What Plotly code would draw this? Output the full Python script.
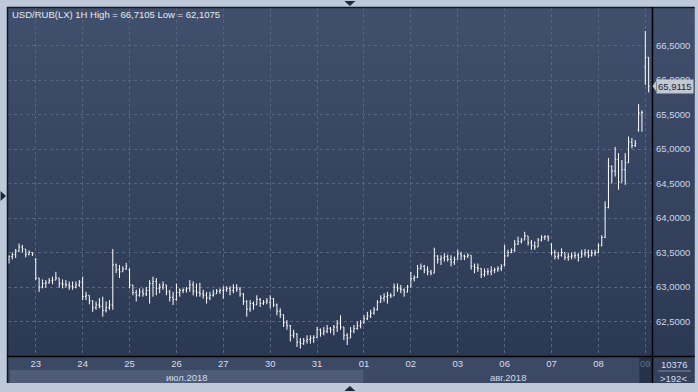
import plotly.graph_objects as go

# ---------------- data (USD/RUB, 1H bars, 14 bars per trading day) ----------------
day_labels = ["23", "24", "25", "26", "27", "30", "31", "01", "02", "03", "06", "07", "08", "09"]
month_labels = ["июл.2018", "авг.2018"]
bars_before_first_label = 8
bars_per_day = 14

opens = [
    63.40, 63.44, 63.47, 63.52, 63.58, 63.55, 63.47, 63.50,
    63.40, 63.13, 63.00, 63.05, 63.06, 63.09, 63.10, 63.13, 63.05, 63.04, 63.03, 63.01, 63.00, 63.03,
    63.07, 62.86, 62.88, 62.80, 62.70, 62.74, 62.72, 62.66, 62.70, 62.74, 63.32, 63.25, 63.22, 63.26,
    63.25, 63.03, 62.92, 62.88, 62.93, 62.90, 62.95, 63.05, 63.08, 62.98, 63.00, 63.03, 62.93, 62.85,
    62.82, 62.92, 62.95, 62.96, 62.98, 63.03, 62.94, 62.92, 62.90, 62.88, 62.84, 62.88, 62.90, 62.94,
    62.95, 62.96, 62.98, 62.95, 62.99, 62.97, 62.90, 62.79, 62.68, 62.76, 62.74, 62.82, 62.76, 62.78,
    62.78, 62.83, 62.74, 62.65, 62.60, 62.48, 62.44, 62.30, 62.32, 62.20, 62.18, 62.22, 62.24, 62.26,
    62.27, 62.38, 62.33, 62.36, 62.40, 62.38, 62.42, 62.47, 62.42, 62.30, 62.26, 62.36, 62.40, 62.44,
    62.48, 62.54, 62.58, 62.62, 62.67, 62.78, 62.84, 62.86, 62.88, 62.87, 63.00, 62.98, 62.96, 62.93,
    63.00, 63.12, 63.14, 63.27, 63.30, 63.25, 63.22, 63.20, 63.45, 63.40, 63.42, 63.44, 63.40, 63.36,
    63.40, 63.48, 63.45, 63.44, 63.46, 63.30, 63.28, 63.27, 63.18, 63.22, 63.22, 63.24, 63.25, 63.27,
    63.32, 63.45, 63.50, 63.53, 63.62, 63.66, 63.68, 63.74, 63.64, 63.60, 63.58, 63.68, 63.72, 63.73,
    63.62, 63.50, 63.44, 63.46, 63.50, 63.43, 63.44, 63.45, 63.46, 63.43, 63.48, 63.50, 63.46, 63.49,
    63.50, 63.60, 63.72, 64.15, 64.75, 64.68, 64.85, 64.52, 64.70, 64.80, 65.10, 65.05, 65.28, 65.52,
    66.19, 66.33,
]
highs = [
    63.46, 63.50, 63.55, 63.63, 63.61, 63.55, 63.53, 63.50,
    63.42, 63.13, 63.11, 63.10, 63.13, 63.15, 63.22, 63.13, 63.11, 63.10, 63.08, 63.08, 63.08, 63.10,
    63.15, 62.93, 62.88, 62.81, 62.79, 62.84, 62.86, 62.79, 62.81, 63.55, 63.34, 63.32, 63.30, 63.35,
    63.27, 63.03, 62.96, 62.98, 62.98, 63.00, 63.10, 63.15, 63.13, 63.05, 63.08, 63.03, 62.96, 62.93,
    63.05, 62.98, 62.98, 63.00, 63.10, 63.08, 63.05, 63.06, 62.96, 62.93, 62.93, 62.96, 62.97, 62.98,
    63.01, 63.01, 63.01, 63.04, 63.04, 63.00, 62.91, 62.81, 62.81, 62.79, 62.88, 62.84, 62.81, 62.84,
    62.88, 62.84, 62.76, 62.69, 62.60, 62.52, 62.45, 62.38, 62.33, 62.26, 62.26, 62.30, 62.30, 62.30,
    62.42, 62.40, 62.42, 62.45, 62.42, 62.45, 62.52, 62.59, 62.42, 62.33, 62.42, 62.45, 62.50, 62.52,
    62.59, 62.64, 62.67, 62.71, 62.81, 62.88, 62.91, 62.93, 62.91, 63.05, 63.05, 63.03, 62.98, 63.03,
    63.22, 63.17, 63.32, 63.34, 63.32, 63.30, 63.25, 63.57, 63.46, 63.46, 63.49, 63.47, 63.46, 63.44,
    63.54, 63.51, 63.47, 63.49, 63.46, 63.34, 63.34, 63.27, 63.27, 63.27, 63.30, 63.28, 63.30, 63.33,
    63.61, 63.54, 63.56, 63.68, 63.73, 63.71, 63.80, 63.74, 63.68, 63.66, 63.71, 63.75, 63.75, 63.75,
    63.63, 63.54, 63.51, 63.56, 63.50, 63.49, 63.50, 63.51, 63.49, 63.54, 63.55, 63.54, 63.54, 63.54,
    63.63, 63.75, 64.24, 64.87, 64.76, 65.03, 64.94, 64.84, 64.94, 65.18, 65.16, 65.13, 65.65, 65.56,
    66.7105, 66.33,
]
lows = [
    63.34, 63.40, 63.42, 63.51, 63.50, 63.43, 63.46, 63.45,
    63.10, 62.93, 62.98, 62.99, 63.05, 63.04, 63.10, 62.99, 62.98, 62.99, 62.96, 62.96, 62.98, 63.00,
    62.81, 62.81, 62.75, 62.64, 62.67, 62.69, 62.57, 62.63, 62.67, 62.67, 63.20, 63.13, 63.22, 63.25,
    62.98, 62.88, 62.79, 62.86, 62.86, 62.87, 62.76, 62.86, 62.88, 62.91, 62.96, 62.88, 62.79, 62.74,
    62.80, 62.86, 62.91, 62.92, 62.93, 62.88, 62.86, 62.86, 62.83, 62.76, 62.81, 62.86, 62.90, 62.90,
    62.83, 62.93, 62.88, 62.91, 62.93, 62.86, 62.74, 62.57, 62.64, 62.67, 62.74, 62.71, 62.74, 62.75,
    62.69, 62.71, 62.59, 62.55, 62.42, 62.38, 62.21, 62.26, 62.13, 62.1075, 62.16, 62.18, 62.18, 62.19,
    62.26, 62.28, 62.30, 62.33, 62.33, 62.30, 62.35, 62.38, 62.23, 62.16, 62.26, 62.33, 62.38, 62.40,
    62.47, 62.52, 62.55, 62.60, 62.66, 62.77, 62.79, 62.76, 62.84, 62.87, 62.93, 62.91, 62.86, 62.92,
    63.00, 63.08, 63.13, 63.25, 63.20, 63.17, 63.17, 63.20, 63.34, 63.32, 63.37, 63.37, 63.30, 63.32,
    63.40, 63.39, 63.39, 63.42, 63.25, 63.20, 63.22, 63.13, 63.15, 63.17, 63.17, 63.20, 63.22, 63.23,
    63.30, 63.44, 63.49, 63.51, 63.61, 63.63, 63.68, 63.60, 63.54, 63.54, 63.58, 63.66, 63.68, 63.66,
    63.46, 63.40, 63.40, 63.44, 63.39, 63.38, 63.40, 63.41, 63.37, 63.43, 63.44, 63.42, 63.44, 63.45,
    63.49, 63.59, 63.71, 64.14, 64.50, 64.60, 64.41, 64.52, 64.48, 64.80, 65.01, 65.03, 65.25, 65.25,
    65.93, 65.82,
]
closes = [
    63.44, 63.47, 63.52, 63.58, 63.55, 63.47, 63.50, 63.48,
    63.13, 63.00, 63.05, 63.06, 63.09, 63.10, 63.13, 63.05, 63.04, 63.03, 63.01, 63.00, 63.03, 63.07,
    62.86, 62.88, 62.80, 62.70, 62.74, 62.72, 62.66, 62.70, 62.74, 63.32, 63.25, 63.22, 63.26, 63.30,
    63.03, 62.92, 62.88, 62.93, 62.90, 62.95, 63.05, 63.08, 62.98, 63.00, 63.03, 62.93, 62.85, 62.82,
    62.92, 62.95, 62.96, 62.98, 63.03, 62.94, 62.92, 62.90, 62.88, 62.84, 62.88, 62.90, 62.94, 62.95,
    62.96, 62.98, 62.95, 62.99, 62.97, 62.90, 62.79, 62.68, 62.76, 62.74, 62.82, 62.76, 62.78, 62.80,
    62.83, 62.74, 62.65, 62.60, 62.48, 62.44, 62.30, 62.32, 62.20, 62.18, 62.22, 62.24, 62.26, 62.27,
    62.38, 62.33, 62.36, 62.40, 62.38, 62.42, 62.47, 62.42, 62.30, 62.26, 62.36, 62.40, 62.44, 62.48,
    62.54, 62.58, 62.62, 62.67, 62.78, 62.84, 62.86, 62.88, 62.87, 63.00, 62.98, 62.96, 62.93, 63.00,
    63.12, 63.14, 63.27, 63.30, 63.25, 63.22, 63.20, 63.45, 63.40, 63.42, 63.44, 63.40, 63.36, 63.40,
    63.48, 63.45, 63.44, 63.46, 63.30, 63.28, 63.27, 63.18, 63.22, 63.22, 63.24, 63.25, 63.27, 63.30,
    63.45, 63.50, 63.53, 63.62, 63.66, 63.68, 63.74, 63.64, 63.60, 63.58, 63.68, 63.72, 63.73, 63.70,
    63.50, 63.44, 63.46, 63.50, 63.43, 63.44, 63.45, 63.46, 63.43, 63.48, 63.50, 63.46, 63.49, 63.50,
    63.60, 63.72, 64.15, 64.75, 64.68, 64.85, 64.52, 64.70, 64.80, 65.10, 65.05, 65.08, 65.52, 65.53,
    66.33, 65.9115,
]
price_ticks = [62.5, 63.0, 63.5, 64.0, 64.5, 65.0, 65.5, 66.0, 66.5]
info_top = "10376"
info_bottom = ">192<"

# ---------------- layout helpers ----------------
W, H = 698, 392
PL, PR, PT, PB = 8, 655, 8, 356          # plot area in pixels


def px(x):
    return (x - PL) / (PR - PL)


def py(y):
    return (PB - y) / (PB - PT)


def rect(x0, y0, x1, y1, color, layer="below"):
    return dict(type="rect", xref="paper", yref="paper", x0=px(x0), x1=px(x1),
                y0=py(y1), y1=py(y0), fillcolor=color, line=dict(width=0), layer=layer)


def line(x0, y0, x1, y1, color, width=1, layer="above"):
    return dict(type="line", xref="paper", yref="paper", x0=px(x0), x1=px(x1),
                y0=py(y0), y1=py(y1), line=dict(color=color, width=width), layer=layer)


def tri(points, color):
    path = "M " + " L ".join(f"{px(a):.5f},{py(b):.5f}" for a, b in points) + " Z"
    return dict(type="path", xref="paper", yref="paper", path=path,
                fillcolor=color, line=dict(width=0), layer="above")


FONT = "Liberation Sans, Arial, sans-serif"

x_idx = list(range(len(closes)))
day_pos = [bars_before_first_label + i * bars_per_day for i in range(len(day_labels))]
tick_text = [d for d in day_labels[:-1]] + ['<span style="color:#63728c">' + day_labels[-1] + '</span>']

fig = go.Figure()
fig.add_trace(go.Ohlc(
    x=x_idx, open=opens, high=highs, low=lows, close=closes,
    increasing=dict(line=dict(color="#ffffff", width=1)),
    decreasing=dict(line=dict(color="#ffffff", width=1)),
    tickwidth=0.3, hoverinfo="skip", showlegend=False,
))

shapes = []
# vertical gradient background (plot + right scale)
top_c = (64, 79, 108)
bot_c = (44, 57, 84)
n = 24
for i in range(n):
    t = i / (n - 1)
    c = tuple(round(top_c[k] + (bot_c[k] - top_c[k]) * t) for k in range(3))
    y0 = PT + (PB - PT) * i / n
    y1 = PT + (PB - PT) * (i + 1) / n + 0.6
    shapes.append(rect(PL, y0, W, min(y1, PB), "rgb(%d,%d,%d)" % c))
# bottom time-scale panel
shapes.append(rect(PL, PB, 642, 383, "#3b4965"))
shapes.append(rect(10, 370, 365, 383, "#4e5c78"))
shapes.append(rect(642, PB, PR, 383, "#26314a"))
shapes.append(rect(PR, PB, W, 383, "#34415c"))
shapes.append(line(661, 371, 694, 371, "#7b8aa5", 1))
# frame lines
shapes.append(line(7.5, 7, 7.5, 383, "#121925", 1.5))
shapes.append(line(7, 7.5, W, 7.5, "#121925", 1.5))
shapes.append(line(PR + 0.5, 7, PR + 0.5, 383, "#000000", 1.5))
shapes.append(line(7, PB + 0.5, W, PB + 0.5, "#000000", 1.5))
# scroll arrows on outer frame
shapes.append(tri([(346, 1), (357, 1), (351.5, 6)], "#1d283b"))
shapes.append(tri([(0.5, 191), (0.5, 201), (6, 196)], "#1d283b"))
shapes.append(tri([(346, 391), (357, 391), (351.5, 386)], "#1d283b"))

# last price tag pointer
last = closes[-1]
shapes.append(dict(type="path", xref="paper", yref="y",
                   path=f"M {px(655.5):.5f},{last} L {px(659):.5f},{last + 0.07} L {px(659):.5f},{last - 0.07} Z",
                   fillcolor="#c3c9d3", line=dict(width=0), layer="above"))

annotations = [
    dict(text=f"USD/RUB(LX) 1H High = {max(highs):.4f} Low = {min(lows):.4f}".replace(".", ","),
         xref="paper", yref="paper", x=px(10), y=py(15), xanchor="left", yanchor="middle",
         showarrow=False, font=dict(family=FONT, size=9.5, color="#e6ebf3")),
    dict(text=month_labels[0], xref="paper", yref="paper", x=px(188), y=py(377),
         xanchor="center", yanchor="middle", showarrow=False,
         font=dict(family=FONT, size=9.5, color="#d3dbe8")),
    dict(text=month_labels[1], xref="paper", yref="paper", x=px(510), y=py(377),
         xanchor="center", yanchor="middle", showarrow=False,
         font=dict(family=FONT, size=9.5, color="#d3dbe8")),
    dict(text=info_top, xref="paper", yref="paper", x=px(677), y=py(364.5),
         xanchor="center", yanchor="middle", showarrow=False,
         font=dict(family=FONT, size=9.5, color="#d6deeb")),
    dict(text=info_bottom, xref="paper", yref="paper", x=px(677), y=py(378),
         xanchor="center", yanchor="middle", showarrow=False,
         font=dict(family=FONT, size=9.5, color="#d6deeb")),
    dict(text=f"{last:.4f}".replace(".", ","), xref="paper", yref="y", x=px(659), y=last,
         xanchor="left", yanchor="middle", showarrow=False, bgcolor="#c3c9d3",
         borderpad=1, font=dict(family=FONT, size=9.5, color="#1b2232")),
]

fig.update_layout(
    width=W, height=H,
    margin=dict(l=PL, r=W - PR, t=PT, b=H - PB, pad=0),
    paper_bgcolor="#bdc8d8",
    plot_bgcolor="rgba(0,0,0,0)",
    separators=", ",
    showlegend=False,
    shapes=shapes,
    annotations=annotations,
    xaxis=dict(
        range=[-0.29, 192.0], rangeslider=dict(visible=False),
        tickmode="array", tickvals=day_pos, ticktext=tick_text,
        showgrid=True, gridcolor="#56667f", griddash="3px,3px", gridwidth=1,
        zeroline=False, showline=False, ticks="",
        tickfont=dict(family=FONT, size=9.5, color="#d6deea"),
        fixedrange=True,
    ),
    yaxis=dict(
        side="right", range=[62.0, 67.0435],
        tickmode="array", tickvals=price_ticks, tickformat=".4f",
        showgrid=True, gridcolor="#56667f", griddash="3px,3px", gridwidth=1,
        zeroline=False, showline=False, ticks="", ticklabelstandoff=3,
        tickfont=dict(family=FONT, size=9.5, color="#ccd7ea"),
        fixedrange=True,
    ),
)

fig.write_html("out.html")
